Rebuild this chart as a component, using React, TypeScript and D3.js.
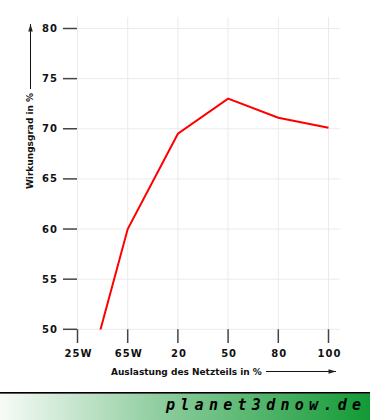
import React from "react";
import * as d3 from "d3";

const categories = ["25W", "65W", "20", "50", "80", "100"];
const efficiency = [41.5, 60, 69.5, 73, 71.1, 70.1];
const yTicks = [50, 55, 60, 65, 70, 75, 80];

const W = 370;
const H = 420;

export default function App() {
  const x = d3.scalePoint<string>().domain(categories).range([77.5, 328.5]);
  const y = d3.scaleLinear().domain([50, 80]).range([329.3, 28.5]);
  const line = d3
    .line<number>()
    .x((_, i) => x(categories[i]) as number)
    .y((d) => y(d));
  const font = "'DejaVu Sans', Verdana, sans-serif";
  return (
    <svg
      width={W}
      height={H}
      style={{ position: "absolute", left: 0, top: 0, background: "#fff" }}
    >
      <defs>
        <clipPath id="plot">
          <rect x={77} y={17} width={263} height={312.5} />
        </clipPath>
        <linearGradient id="foot" x1="0" x2="1" y1="0" y2="0">
          <stop offset="0" stopColor="#f7fbf7" />
          <stop offset="0.43" stopColor="#8fcd9f" />
          <stop offset="1" stopColor="#129a35" />
        </linearGradient>
        <marker id="ah" viewBox="0 0 10 6" refX="10" refY="3" markerWidth="16" markerHeight="4.5" orient="auto" markerUnits="userSpaceOnUse">
          <path d="M0,0 L10,3 L0,6 Z" fill="#222" />
        </marker>
      </defs>
      {/* grid */}
      {yTicks.map((t) => (
        <line key={"gy" + t} x1={77} x2={340} y1={y(t)} y2={y(t)} stroke="#ebebeb" strokeWidth={1} />
      ))}
      {categories.map((c) => (
        <line key={"gx" + c} x1={x(c)} x2={x(c)} y1={17} y2={329.3} stroke="#ebebeb" strokeWidth={1} />
      ))}
      {/* y ticks */}
      {yTicks.map((t) => (
        <g key={"ty" + t}>
          <line x1={63} x2={77} y1={y(t)} y2={y(t)} stroke="#444" strokeWidth={1.5} />
          <text x={58} y={y(t)} dy="0.35em" textAnchor="end" fontFamily={font} fontWeight="bold" fontSize={10} letterSpacing={1} fill="#111">
            {t}
          </text>
        </g>
      ))}
      {/* x ticks */}
      {categories.map((c) => (
        <g key={"tx" + c}>
          <line x1={x(c)} x2={x(c)} y1={329.3} y2={343} stroke="#444" strokeWidth={1.5} />
          <text x={(x(c) as number) + 1} y={353} dy="0.35em" textAnchor="middle" fontFamily={font} fontWeight="bold" fontSize={10} letterSpacing={1} fill="#111">
            {c}
          </text>
        </g>
      ))}
      {/* data line */}
      <path d={line(efficiency) || ""} fill="none" stroke="#ff0000" strokeWidth={2} clipPath="url(#plot)" strokeLinejoin="miter" />
      {/* y axis title */}
      <text
        transform="translate(33,141) rotate(-90)"
        textAnchor="middle"
        fontFamily={font}
        fontWeight="bold"
        fontSize={9}
        fill="#111"
      >
        Wirkungsgrad in %
      </text>
      <line x1={30.5} x2={30.5} y1={89} y2={24} stroke="#111" strokeWidth={1} markerEnd="url(#ah)" />
      {/* x axis title */}
      <text x={111} y={375} fontFamily={font} fontWeight="bold" fontSize={9} fill="#111">
        Auslastung des Netzteils in %
      </text>
      <line x1={266} x2={336} y1={371.5} y2={371.5} stroke="#111" strokeWidth={1} markerEnd="url(#ah)" />
      {/* footer */}
      <rect x={0} y={392} width={W} height={1.8} fill="#000" />
      <rect x={0} y={393.8} width={W} height={H - 393.8} fill="url(#foot)" />
      <text
        x={166}
        y={410}
        fontFamily="'DejaVu Sans Mono', monospace"
        fontStyle="italic"
        fontWeight="bold"
        fontSize={15}
        textLength={195}
        lengthAdjust="spacing"
        fill="#000"
      >
        planet3dnow.de
      </text>
    </svg>
  );
}
